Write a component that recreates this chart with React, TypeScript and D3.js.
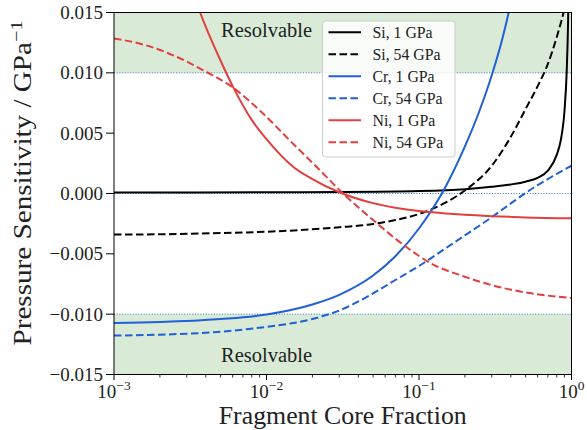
import React from 'react';
import * as d3 from 'd3';

// ---- data (fragment core fraction, pressure sensitivity / GPa^-1) ----
const siLow: [number, number][] = [
  [0.001, 0.00008], [0.01, 0.0001], [0.03, 0.00012], [0.1, 0.0002], [0.2, 0.00035],
  [0.3, 0.00055], [0.4, 0.00075], [0.5, 0.00098], [0.6, 0.0013], [0.7, 0.0019],
  [0.8, 0.0032], [0.85, 0.0044], [0.9, 0.0069], [0.93, 0.0101], [0.95, 0.0143],
  [0.96, 0.018], [0.97, 0.024],
];
const siHigh: [number, number][] = [
  [0.001, -0.0034], [0.002, -0.00338], [0.005, -0.00328], [0.01, -0.00317], [0.02, -0.00297],
  [0.03, -0.0028], [0.05, -0.00253], [0.07, -0.0022], [0.1, -0.0017], [0.15, -0.00074],
  [0.2, 0.00025], [0.3, 0.0023], [0.4, 0.0047], [0.5, 0.0070], [0.6, 0.0089],
  [0.7, 0.01074], [0.8, 0.01295], [0.9, 0.0153], [1, 0.0178],
];
const crLow: [number, number][] = [
  [0.001, -0.01073], [0.002, -0.01065], [0.005, -0.0104], [0.01, -0.01003], [0.02, -0.0092],
  [0.03, -0.0084], [0.05, -0.0068], [0.07, -0.0052], [0.1, -0.0029], [0.15, 0.0006],
  [0.2, 0.0039], [0.25, 0.0069], [0.3, 0.0098], [0.35, 0.0127], [0.4, 0.0158], [0.45, 0.019],
];
const crHigh: [number, number][] = [
  [0.001, -0.01177], [0.002, -0.0117], [0.005, -0.01145], [0.01, -0.01105], [0.02, -0.0104],
  [0.03, -0.0097], [0.05, -0.00828], [0.07, -0.00717], [0.1, -0.00601], [0.15, -0.00453],
  [0.2, -0.00347], [0.3, -0.00196], [0.4, -0.00082], [0.5, 0.00004], [0.6, 0.0007],
  [0.7, 0.0012], [0.8, 0.00163], [0.9, 0.00199], [1, 0.0023],
];
const niLow: [number, number][] = [
  [0.003, 0.018], [0.004, 0.0138], [0.005, 0.011], [0.006, 0.0089], [0.008, 0.0061],
  [0.01, 0.0045], [0.015, 0.0022], [0.02, 0.0012], [0.03, 0.0001], [0.05, -0.0008],
  [0.07, -0.00118], [0.1, -0.00146], [0.15, -0.00166], [0.2, -0.00177], [0.3, -0.00188],
  [0.5, -0.00198], [1, -0.00205],
];
const niHigh: [number, number][] = [
  [0.001, 0.01285], [0.0016, 0.0123], [0.0025, 0.0114], [0.004, 0.0101], [0.006, 0.0088],
  [0.009, 0.0069], [0.015, 0.0041], [0.0235, 0.00166], [0.03, 0.0003], [0.05, -0.0022],
  [0.08, -0.0043], [0.12, -0.0058], [0.2, -0.0069], [0.3, -0.0076], [0.5, -0.0082],
  [1, -0.00866],
];

const seriesLabels = ['Si, 1 GPa', 'Si, 54 GPa', 'Cr, 1 GPa', 'Cr, 54 GPa', 'Ni, 1 GPa', 'Ni, 54 GPa'];
const seriesData = [siLow, siHigh, crLow, crHigh, niLow, niHigh];

const yTicks = [-0.015, -0.01, -0.005, 0, 0.005, 0.01, 0.015];
const xTickExps = [-3, -2, -1, 0];
const resolvableBands: [number, number][] = [[0.01, 0.015], [-0.015, -0.01]];
const thresholdLines = [0.01, 0, -0.01];
const bandLabel = 'Resolvable';
const xTitle = 'Fragment Core Fraction';
const yTitle = 'Pressure Sensitivity / GPa';

// ---- styles ----
const BLACK = '#000000';
const BLUE = '#1f5fd8';
const RED = '#e23f3f';
const seriesColors = [BLACK, BLACK, BLUE, BLUE, RED, RED];
const seriesDashed = [false, true, false, true, false, true];
const FONT = "'Liberation Serif', 'Times New Roman', serif";

const W = 587;
const H = 430;
const L = 114;
const R = 571.5;
const T = 12.5;
const B = 374.5;

export default function App() {
  const x = d3.scaleLog().domain([1e-3, 1]).range([L, R]);
  const y = d3.scaleLinear().domain([-0.015, 0.015]).range([B, T]);
  const line = d3
    .line<[number, number]>()
    .x((d) => x(d[0]))
    .y((d) => y(d[1]))
    .curve(d3.curveMonotoneX);

  const minorTicks: number[] = [];
  for (let e = -3; e < 0; e++) {
    for (let k = 2; k <= 9; k++) minorTicks.push(k * Math.pow(10, e));
  }
  const fmtY = (v: number) => (v < 0 ? '\u2212' : '') + Math.abs(v).toFixed(3);

  const legX = 322.5;
  const legY = 21;
  const legW = 132.5;
  const legH = 136;
  const rowH = 22;
  const textStyle = { fontFamily: FONT };

  return (
    <svg
      width={W}
      height={H}
      style={{ position: 'absolute', left: 0, top: 0, background: '#fff' }}
      fontFamily={FONT}
    >
      <defs>
        <clipPath id="plotClip">
          <rect x={L} y={T} width={R - L} height={B - T} />
        </clipPath>
      </defs>
      <rect x={0} y={0} width={W} height={H} fill="#fff" />

      {/* resolvable bands */}
      {resolvableBands.map(([a, b], i) => (
        <rect key={i} x={L} y={y(b)} width={R - L} height={y(a) - y(b)} fill="#d9ebd7" />
      ))}

      {/* threshold dotted lines */}
      {thresholdLines.map((v, i) => (
        <line
          key={i}
          x1={L}
          x2={R}
          y1={y(v)}
          y2={y(v)}
          stroke="#2b7bb9"
          strokeWidth={1}
          strokeDasharray="1,1.7"
        />
      ))}

      {/* band labels */}
      <text x={x(0.01)} y={36.7} fontSize={20.5} textAnchor="middle" fill="#222" style={textStyle}>
        {bandLabel}
      </text>
      <text x={x(0.01)} y={362.3} fontSize={20.5} textAnchor="middle" fill="#222" style={textStyle}>
        {bandLabel}
      </text>

      {/* series */}
      <g clipPath="url(#plotClip)">
        {seriesData.map((d, i) => (
          <path
            key={i}
            d={line(d) || ''}
            fill="none"
            stroke={seriesColors[i]}
            strokeWidth={2}
            strokeDasharray={seriesDashed[i] ? '7.5,3.5' : undefined}
          />
        ))}
      </g>

      {/* legend */}
      <rect
        x={legX}
        y={legY}
        width={legW}
        height={legH}
        rx={3}
        fill="#ffffff"
        fillOpacity={0.8}
        stroke="#cccccc"
        strokeWidth={1}
      />
      {seriesLabels.map((lab, i) => {
        const cy = legY + 11.3 + i * rowH;
        return (
          <g key={lab}>
            <line
              x1={legX + 6}
              x2={legX + 38.5}
              y1={cy}
              y2={cy}
              stroke={seriesColors[i]}
              strokeWidth={2}
              strokeDasharray={seriesDashed[i] ? '7.5,3.5' : undefined}
            />
            <text x={legX + 50} y={cy + 5.3} fontSize={15.8} fill="#222" style={textStyle}>
              {lab}
            </text>
          </g>
        );
      })}

      {/* y axis ticks */}
      {yTicks.map((v) => (
        <g key={v}>
          <line x1={L - 8} x2={L} y1={y(v)} y2={y(v)} stroke="#000" strokeWidth={1} />
          <text
            x={L - 11}
            y={y(v)}
            dy="0.34em"
            fontSize={19}
            textAnchor="end"
            fill="#222"
            style={textStyle}
          >
            {fmtY(v)}
          </text>
        </g>
      ))}

      {/* x axis ticks */}
      {minorTicks.map((v) => (
        <line key={v} x1={x(v)} x2={x(v)} y1={B} y2={B + 3} stroke="#000" strokeWidth={0.8} />
      ))}
      {xTickExps.map((e) => {
        const v = Math.pow(10, e);
        return (
          <g key={e}>
            <line x1={x(v)} x2={x(v)} y1={B} y2={B + 5.5} stroke="#000" strokeWidth={1} />
            <text x={x(v)} y={397.5} fontSize={19} textAnchor="middle" fill="#222" style={textStyle}>
              10
              <tspan dy={-8} fontSize={13.5}>
                {e < 0 ? '\u2212' + Math.abs(e) : String(e)}
              </tspan>
            </text>
          </g>
        );
      })}

      {/* spines */}
      <rect x={L} y={T} width={R - L} height={B - T} fill="none" stroke="#000" strokeWidth={1} />

      {/* axis titles */}
      <text
        x={(L + R) / 2}
        y={424}
        fontSize={24.5}
        textAnchor="middle"
        fill="#222"
        textLength={248}
        lengthAdjust="spacingAndGlyphs"
        style={textStyle}
      >
        {xTitle}
      </text>
      <text
        transform="translate(31,183) rotate(-90)"
        x={0}
        y={0}
        fontSize={24.5}
        textAnchor="middle"
        fill="#222"
        textLength={325}
        lengthAdjust="spacingAndGlyphs"
        style={textStyle}
      >
        {yTitle}
        <tspan dy={-9} fontSize={17}>
          {'\u22121'}
        </tspan>
      </text>
    </svg>
  );
}
